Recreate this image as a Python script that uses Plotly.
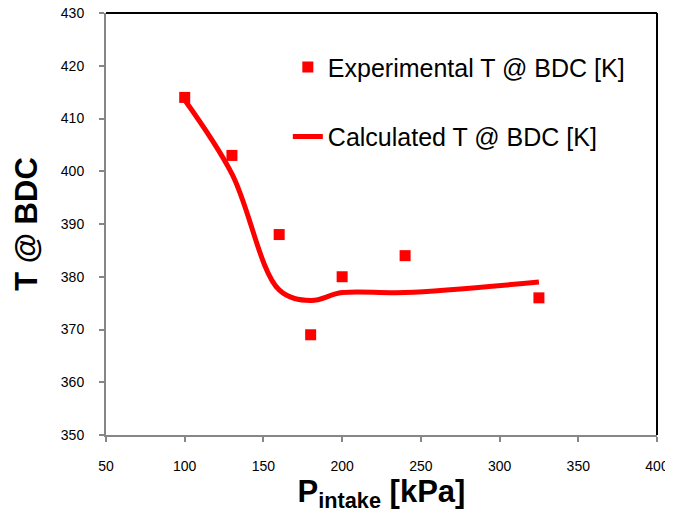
import plotly.graph_objects as go

# Data
p_exp = [100, 130, 160, 180, 200, 240, 325]
t_exp = [414, 403, 388, 369, 380, 384, 376]

p_calc = [100, 130, 160, 180, 200, 240, 325]
t_calc = [413.5, 399.5, 377.5, 375.5, 377, 377, 379]

x_ticks = [50, 100, 150, 200, 250, 300, 350, 400]
y_ticks = [350, 360, 370, 380, 390, 400, 410, 420, 430]

RED = "#ff0000"
AX = "#868686"

fig = go.Figure()
fig.add_trace(go.Scatter(
    x=p_exp, y=t_exp, mode="markers", name="Experimental T @ BDC [K]",
    marker=dict(symbol="square", size=11, color=RED),
    legendgroup="a",
))
fig.add_trace(go.Scatter(
    x=p_calc, y=t_calc, mode="lines", name="Calculated T @ BDC [K]",
    line=dict(color=RED, width=5, shape="spline", smoothing=1.0),
    legendgroup="b",
))

# page body has an 8px margin, so the figure is sized to fit the window
fig.update_layout(
    width=665, height=510,
    margin=dict(l=98, r=16, t=5, b=83),
    paper_bgcolor="white", plot_bgcolor="white",
    font=dict(family="Liberation Sans, Arial, sans-serif", color="black"),
    showlegend=True,
    legend=dict(
        x=0.330, y=0.926, xanchor="left", yanchor="top",
        font=dict(size=25, color="black"),
        bgcolor="rgba(0,0,0,0)", tracegroupgap=34,
        traceorder="grouped", itemwidth=30,
    ),
    xaxis=dict(
        range=[50, 400], tickvals=x_ticks, showgrid=False, zeroline=False,
        showline=True, linecolor=AX, linewidth=2, automargin=False,
        ticks="outside", ticklen=5, tickcolor=AX, tickwidth=2,
        tickfont=dict(size=14, color="black"), ticklabelstandoff=12,
        ticklabeloverflow="allow",
        title=dict(text="<b>P<sub>intake</sub> [kPa]</b>", font=dict(size=31), standoff=6),
    ),
    yaxis=dict(
        range=[350, 430], tickvals=y_ticks, showgrid=False, zeroline=False,
        showline=True, linecolor=AX, linewidth=2, automargin=False,
        ticks="outside", ticklen=5, tickcolor=AX, tickwidth=2,
        tickfont=dict(size=14, color="black"), ticklabelstandoff=12,
        ticklabeloverflow="allow",
        title=dict(text="<b>T @ BDC</b>", font=dict(size=31), standoff=14),
    ),
    shapes=[
        dict(type="line", xref="paper", yref="paper", x0=0, x1=1, y0=1, y1=1,
             line=dict(color="black", width=2)),
        dict(type="line", xref="paper", yref="paper", x0=1, x1=1, y0=0, y1=1,
             line=dict(color="black", width=2)),
    ],
)

fig.write_html("out.html")
